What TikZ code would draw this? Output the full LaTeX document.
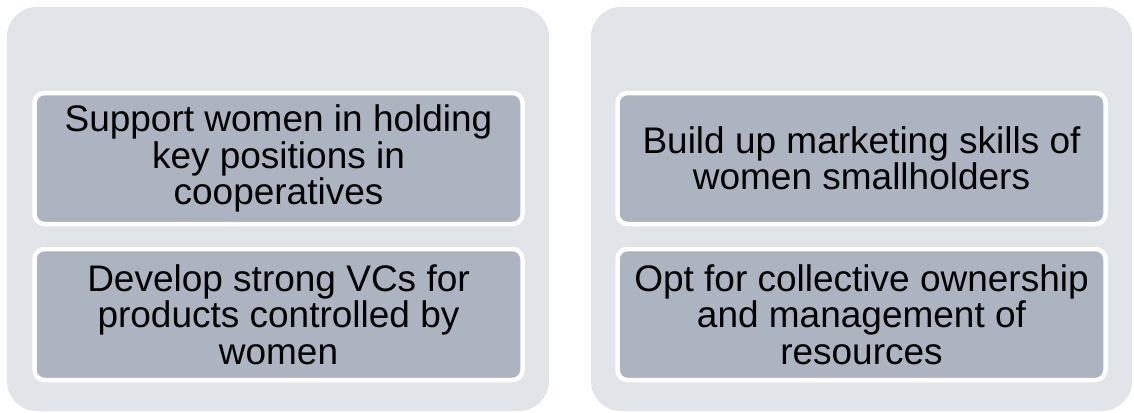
\documentclass[tikz,border=0pt]{standalone}
\usepackage{fontspec}
\setmainfont{Liberation Sans}
\definecolor{outerfill}{RGB}{225,228,232}
\definecolor{innerfill}{RGB}{171,180,192}
\begin{document}
\begin{tikzpicture}[x=1pt,y=-1pt,
  outerbox/.style={fill=outerfill, draw=none, rounded corners=30pt, inner sep=0pt, outer sep=0pt},
  innerbox/.style={fill=innerfill, draw=white, line width=4.5pt, rounded corners=10pt,
    inner sep=0pt, outer sep=0pt, minimum width=488pt, minimum height=131pt,
    align=center, font=\fontsize{37}{36.3}\selectfont, text=black}]
\useasboundingbox (0,0) rectangle (1134,412);
\node[outerbox, minimum width=542pt, minimum height=404pt] (leftpanel) at (278,209) {};
\node[outerbox, minimum width=541pt, minimum height=404pt] (rightpanel) at (861.5,209) {};
\node[innerbox] (lt) at (278.5,158.5) {Support women in holding\\key positions in\\cooperatives};
\node[innerbox] (lb) at (278.5,314.5) {Develop strong VCs for\\products controlled by\\women};
\node[innerbox] (rt) at (861.5,158.5) {Build up marketing skills of\\women smallholders};
\node[innerbox] (rb) at (861.5,314.5) {Opt for collective ownership\\and management of\\resources};
\end{tikzpicture}
\end{document}
